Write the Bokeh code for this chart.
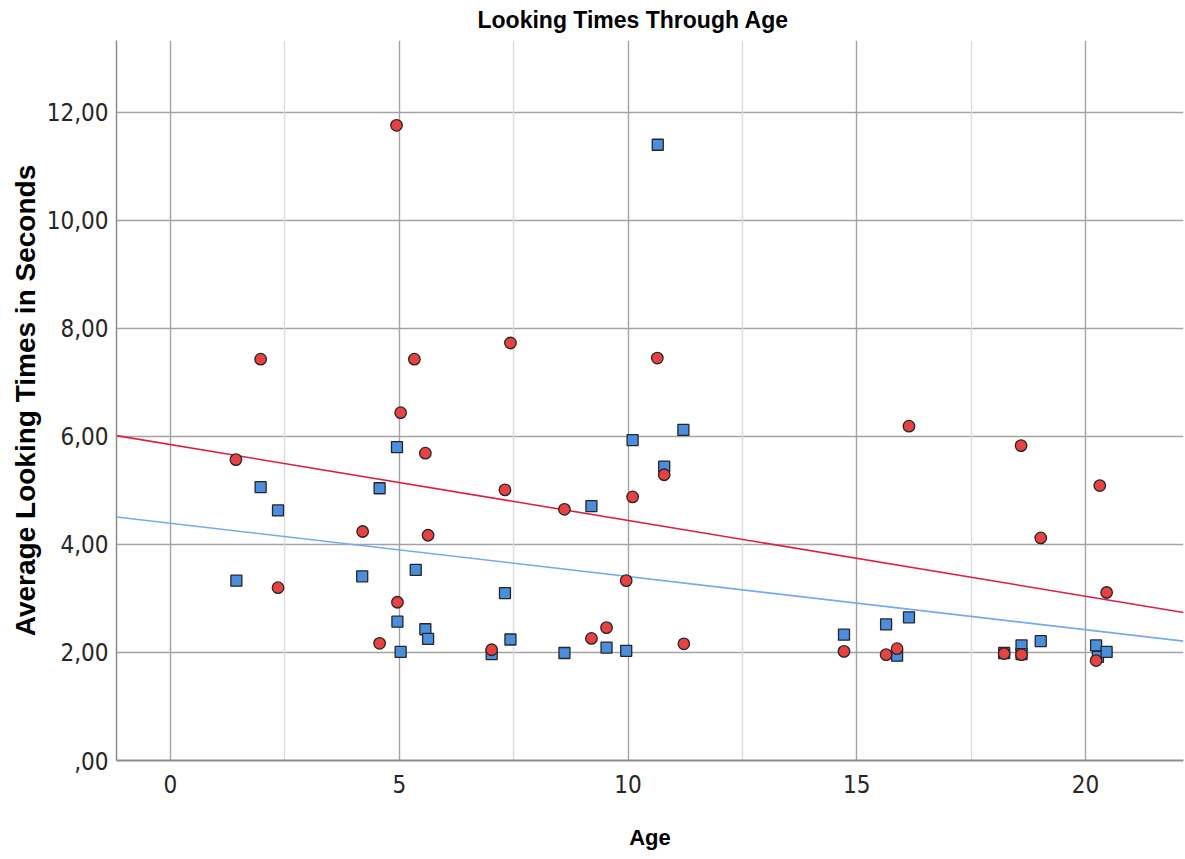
import numpy as np
from bokeh.plotting import figure
from bokeh.models import Range1d, FixedTicker, Grid, Title
from bokeh.embed import file_html
from bokeh.resources import INLINE

# ---- data ----
red_age = [1.43, 1.97, 2.35, 4.20, 4.57, 4.94, 4.96, 5.03, 5.33, 5.57, 5.63,
           7.02, 7.31, 7.43, 8.61, 9.20, 9.53, 9.96, 10.10, 10.64, 10.79, 11.22,
           14.72, 15.64, 15.88, 16.14, 18.22, 18.59, 18.60, 19.02, 20.23, 20.31, 20.46]
red_time = [5.57, 7.43, 3.20, 4.24, 2.17, 11.76, 2.93, 6.44, 7.43, 5.69, 4.17,
            2.05, 5.01, 7.73, 4.65, 2.26, 2.46, 3.33, 4.88, 7.45, 5.29, 2.16,
            2.02, 1.96, 2.07, 6.19, 1.98, 5.83, 1.96, 4.12, 1.85, 5.09, 3.11]

blue_age = [1.44, 1.97, 2.35, 4.19, 4.57, 4.95, 4.96, 5.03, 5.36, 5.57, 5.63,
            7.02, 7.31, 7.43, 8.61, 9.20, 9.53, 9.96, 10.10, 10.65, 10.79, 11.21,
            14.72, 15.64, 15.88, 16.14, 18.22, 18.60, 18.60, 19.02, 20.23, 20.27, 20.46]
blue_time = [3.33, 5.06, 4.63, 3.41, 5.04, 5.80, 2.57, 2.01, 3.53, 2.43, 2.25,
             1.97, 3.10, 2.24, 1.99, 4.71, 2.09, 2.03, 5.93, 11.40, 5.44, 6.12,
             2.33, 2.52, 1.94, 2.65, 1.99, 2.13, 1.97, 2.21, 2.13, 1.92, 2.01]

x_ticks = [0, 5, 10, 15, 20]
x_minor = [2.5, 7.5, 12.5, 17.5]
y_ticks = [0, 2, 4, 6, 8, 10, 12]
y_labels = [",00", "2,00", "4,00", "6,00", "8,00", "10,00", "12,00"]

X_MIN, X_MAX = -1.18, 22.14
Y_MIN, Y_MAX = 0, 13.33

RED_FILL = "#e84141"
BLUE_FILL = "#4a8fdd"
RED_LINE = "#dc1f48"
BLUE_LINE = "#74aaf0"
FONT = "Liberation Sans"
NARROW = "'Liberation Sans Narrow', 'Arial Narrow', 'DejaVu Sans Condensed', sans-serif"

p = figure(width=1185, height=859, output_backend="svg", toolbar_location=None,
           x_range=Range1d(X_MIN, X_MAX), y_range=Range1d(Y_MIN, Y_MAX),
           min_border_left=116, min_border_right=2, min_border_top=40,
           min_border_bottom=99)
p.outline_line_color = None
p.background_fill_color = "white"
p.border_fill_color = "white"

p.title = Title(text="Looking Times Through Age", align="left",
                text_font=FONT, text_font_size="23px", text_font_style="bold",
                text_color="#000000", offset=361, standoff=11,
                vertical_align="top")

# grids
p.xgrid.ticker = FixedTicker(ticks=x_ticks)
p.xgrid.grid_line_color = "#a3a3a3"
p.xgrid.grid_line_width = 1.4
p.ygrid.ticker = FixedTicker(ticks=y_ticks[1:])
p.ygrid.grid_line_color = "#a3a3a3"
p.ygrid.grid_line_width = 1.6
p.add_layout(Grid(dimension=0, ticker=FixedTicker(ticks=x_minor),
                  grid_line_color="#dcdcdc", grid_line_width=1.4))

# axes
p.xaxis.ticker = FixedTicker(ticks=x_ticks)
p.yaxis.ticker = FixedTicker(ticks=y_ticks)
p.yaxis.major_label_overrides = {t: l for t, l in zip(y_ticks, y_labels)}
for ax in (p.xaxis[0], p.yaxis[0]):
    ax.major_tick_line_color = None
    ax.minor_tick_line_color = None
    ax.axis_line_color = "#8c8c8c"
    ax.major_label_text_font = NARROW
    ax.major_label_text_font_size = "24px"
    ax.major_label_text_color = "#262626"
    ax.axis_label_text_font = FONT
    ax.axis_label_text_font_style = "bold"
    ax.axis_label_text_color = "#000000"
p.xaxis.axis_line_width = 2
p.yaxis.axis_line_width = 1.5
p.xaxis.axis_label = "Age"
p.xaxis.axis_label_text_font_size = "22px"
p.xaxis.major_label_standoff = 8
p.xaxis.axis_label_standoff = 29
p.yaxis.axis_label = "Average Looking Times in Seconds"
p.yaxis.axis_label_text_font_size = "28px"
p.yaxis.major_label_standoff = 2
p.yaxis.axis_label_standoff = 3

# regression (fit) lines computed from the data
xs_line = [X_MIN, X_MAX]
b_slope, b_int = np.polyfit(blue_age, blue_time, 1)
r_slope, r_int = np.polyfit(red_age, red_time, 1)
p.line(xs_line, [b_int + b_slope * x for x in xs_line], line_color=BLUE_LINE, line_width=1.6)
p.line(xs_line, [r_int + r_slope * x for x in xs_line], line_color=RED_LINE, line_width=1.6)

# points
p.scatter(blue_age, blue_time, marker="square", size=11, fill_color=BLUE_FILL,
          line_color="#262626", line_width=1.3)
p.scatter(red_age, red_time, marker="circle", size=11.5, fill_color=RED_FILL,
          line_color="#262626", line_width=1.3)

open("out.html", "w").write(file_html(p, INLINE))
